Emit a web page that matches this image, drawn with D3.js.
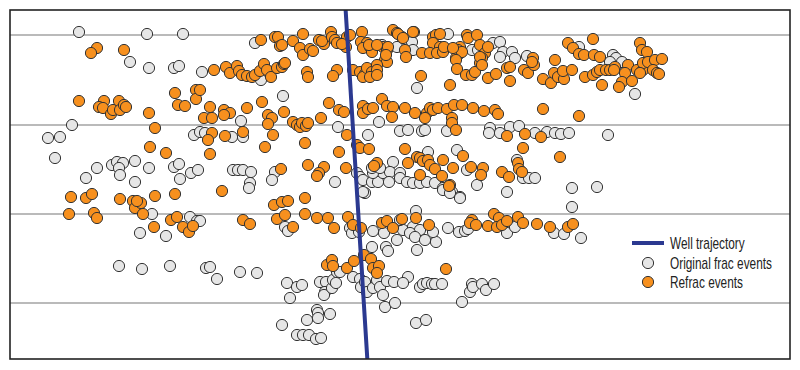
<!DOCTYPE html>
<html>
<head>
<meta charset="utf-8">
<script src="https://cdn.jsdelivr.net/npm/d3@7"></script>
<style>
  html, body { margin: 0; padding: 0; background: #fff; }
  svg { display: block; }
  .legend text { font-family: 'Liberation Sans', Arial, sans-serif; font-size: 16px; fill: #222; }
</style>
</head>
<body>
<svg id="chart" width="800" height="370"></svg>
<script>
// microseismic map (plan units)
const gridDepths = [35, 125, 214, 303];
const wellTrajectory = [[345, 0], [368, 370]];
const legendItems = ['Well trajectory', 'Original frac events', 'Refrac events'];

const originalEvents = [
  [79,32],[147,34],[183,34],[130,62],[149,68],[174,68],[179,66],[202,72],
  [72,125],[48,138],[60,137],[55,158],[194,135],
  [97,168],[86,178],[112,165],[117,162],[123,163],[119,168],[120,175],[135,161],[135,182],[149,168],[174,167],[179,164],[180,179],[191,173],[198,170],
  [152,214],[140,233],[166,236],[190,217],[197,221],[119,266],[142,269],[170,266],
  [255,43],[382,45],[388,48],[397,47],[261,80],[283,96],
  [241,121],[243,137],[232,137],[338,127],[368,135],[379,122],[200,132],[205,133],
  [233,170],[238,170],[243,170],[251,172],[275,172],[272,180],[250,183],
  [335,182],[393,162],[428,152],[457,150],[467,170],[357,173],[360,177],[363,180],[372,182],[378,182],[383,173],[390,172],[400,173],
  [389,182],[400,178],[407,182],[413,183],[420,183],[427,182],[435,183],[443,188],[452,192],[460,197],[365,193],[373,173],[372,168],[380,168],
  [249,188],[200,221],[285,227],[288,231],[350,228],[352,233],[359,232],[373,231],[384,233],[372,247],[386,247],[388,251],[397,240],[403,230],[363,192],
  [206,268],[210,267],[217,279],[240,272],[257,273],[287,283],[297,287],[302,285],[290,298],
  [320,282],[326,282],[325,292],[324,295],[332,288],[333,280],[336,283],[337,272],[340,272],[353,277],[360,279],[361,287],[365,282],[367,292],
  [373,288],[377,280],[380,287],[383,295],[385,307],[387,281],[395,303],[394,282],
  [317,310],[318,313],[318,318],[307,320],[330,314],[282,325],[297,335],[303,335],[309,335],[316,339],[321,338],
  [443,190],[450,193],[460,198],[477,185],[507,192],[572,188],[597,187],[572,207],
  [416,211],[400,220],[413,227],[420,230],[410,233],[415,237],[425,240],[436,242],[417,250],[433,232],[448,228],[459,232],[465,231],[468,229],
  [507,233],[515,227],[554,233],[564,234],[581,238],
  [408,277],[403,283],[420,287],[423,284],[427,283],[432,284],[435,284],[442,284],[462,302],[472,284],[470,292],[473,287],[482,284],[486,290],[494,284],
  [416,323],[426,320],
  [448,34],[412,42],[413,50],[472,50],[478,50],[485,52],[493,43],[500,42],[503,52],[512,52],[500,57],[515,58],[527,56],[579,47],[417,88],
  [400,131],[408,130],[422,131],[425,130],[447,131],[490,128],[489,133],[500,133],[510,127],[519,126],[535,133],[547,132],[555,133],[561,134],[569,133],
  [517,160],[523,178],[529,178],[535,178],
  [613,55],[616,58],[622,62],[610,62],[635,94],[608,135]
];

const refracEvents = [
  [97,48],[91,53],[124,50],
  [79,101],[104,101],[99,107],[103,108],[111,114],[113,110],[119,101],[120,110],[124,105],[126,107],[149,113],[175,93],[196,90],[196,99],[178,105],[185,106],
  [155,128],[150,147],[166,153],
  [71,197],[86,198],[92,194],[120,199],[133,201],[135,208],[141,203],[137,201],[155,196],[175,194],[69,214],[94,213],[97,218],[143,214],[154,227],[171,220],[177,217],[183,227],[189,232],[193,226],
  [261,40],[275,37],[278,37],[280,46],[293,41],[303,34],[300,48],[303,55],[310,49],[313,51],[319,40],[324,44],[322,41],[331,32],[332,37],[335,40],[337,43],
  [344,43],[346,47],[347,37],[350,35],[362,32],[361,42],[367,43],[363,48],[370,47],[372,52],[383,47],[387,50],[385,60],[387,62],[393,30],[397,33],[388,47],
  [282,45],[342,44],[369,45],[377,45],[386,55],
  [214,70],[226,67],[230,73],[237,66],[239,71],[242,75],[247,76],[252,77],[255,75],[260,71],[264,64],[267,70],[271,77],[277,68],[282,67],[284,64],
  [307,72],[308,77],[337,70],[333,76],[353,70],[360,72],[365,74],[363,77],[367,68],[372,72],[377,65],[377,70],[285,63],[370,77],[377,75],
  [200,90],[210,107],[224,110],[230,113],[224,115],[247,108],[262,102],[268,115],[272,118],[268,124],[284,112],[293,122],[297,125],[300,127],[302,123],
  [306,126],[308,123],[321,118],[329,103],[339,110],[344,112],[363,106],[363,113],[368,109],[373,108],[382,99],[387,106],[393,107],[392,117],[204,118],[212,118],
  [212,133],[208,140],[225,136],[243,132],[273,135],[265,147],[305,143],[347,135],[357,145],[360,148],[369,149],[339,152],[210,154],
  [308,165],[324,167],[319,173],[317,176],[346,168],[281,169],[377,163],[374,166],
  [222,191],[274,205],[282,202],[288,201],[305,198],[243,220],[250,224],[277,219],[285,215],[293,227],[305,214],[317,218],[328,218],[334,228],
  [348,217],[353,225],[361,228],[382,223],[387,221],[393,228],
  [327,265],[332,260],[333,266],[347,268],[354,261],[364,255],[371,259],[373,268],[379,266],[377,273],
  [414,32],[402,37],[433,37],[436,35],[440,34],[433,43],[440,47],[467,35],[468,38],[477,35],[480,45],[460,47],[458,50],[405,50],[406,57],
  [422,53],[430,53],[437,53],[443,52],[444,47],[459,54],[456,58],[462,52],[485,53],[482,58],[480,63],[398,34],[403,38],[413,32],[453,48],[488,47],[456,60],[480,57],
  [457,69],[466,75],[472,75],[475,72],[482,65],[488,78],[496,74],[510,81],[507,68],[510,67],[524,70],[528,73],[533,58],[534,65],[532,62],
  [543,79],[551,83],[554,73],[555,60],[558,77],[564,79],[563,71],[572,70],[568,43],[573,48],[579,54],[584,55],[593,39],[594,55],[585,77],[593,75],[597,72],
  [421,76],[450,85],
  [405,108],[415,113],[427,113],[430,108],[433,110],[438,108],[447,109],[454,105],[462,105],[473,108],[484,111],[495,110],[498,114],[452,118],[452,123],
  [425,118],[456,130],[543,109],[579,116],[507,136],[525,134],[541,137],
  [405,149],[417,157],[420,158],[423,161],[428,160],[430,165],[435,169],[443,160],[453,168],[463,156],[408,163],[420,175],[442,176],[450,185],
  [471,167],[483,168],[481,175],[502,172],[509,177],[518,163],[519,169],[522,172],[523,148],[560,157],
  [402,219],[416,218],[429,225],[449,186],[472,220],[470,223],[476,225],[488,226],[494,214],[499,218],[497,227],[502,225],[507,221],[518,217],
  [523,223],[537,224],[550,227],[568,227],[573,224],[446,269],
  [640,43],[642,50],[647,52],[600,57],[600,70],[602,85],[606,70],[610,70],[615,67],[614,70],[628,65],[625,73],[622,82],[619,87],[632,81],
  [637,70],[643,70],[643,63],[648,62],[655,60],[662,59],[653,70],[657,73],[659,74],[640,73]
];

const colors = { well: '#2b3990', original: '#e6e6e6', refrac: '#f7901e', stroke: '#333333', grid: '#777777' };

const svg = d3.select('#chart');
const plot = { left: 10, top: 10, right: 790, bottom: 359 };

const x = d3.scaleLinear().domain([10, 790]).range([plot.left, plot.right]);
const y = d3.scaleLinear().domain([10, 359]).range([plot.top, plot.bottom]);

svg.append('clipPath').attr('id', 'plot-clip')
  .append('rect')
  .attr('x', plot.left).attr('y', plot.top)
  .attr('width', plot.right - plot.left).attr('height', plot.bottom - plot.top);

const g = svg.append('g').attr('clip-path', 'url(#plot-clip)');

// horizontal grid
g.append('g').selectAll('line').data(gridDepths).join('line')
  .attr('x1', plot.left).attr('x2', plot.right)
  .attr('y1', d => y(d)).attr('y2', d => y(d))
  .attr('stroke', colors.grid).attr('stroke-width', 1.2);

const drawEvents = (data, fill) => g.append('g').selectAll('circle').data(data).join('circle')
  .attr('cx', d => x(d[0])).attr('cy', d => y(d[1])).attr('r', 5.6)
  .attr('fill', fill).attr('stroke', colors.stroke).attr('stroke-width', 1);

drawEvents(originalEvents, colors.original);
drawEvents(refracEvents, colors.refrac);

g.append('path')
  .datum(wellTrajectory)
  .attr('d', d3.line().x(d => x(d[0])).y(d => y(d[1])))
  .attr('stroke', colors.well).attr('stroke-width', 4).attr('fill', 'none');

// frame
svg.append('rect')
  .attr('x', plot.left).attr('y', plot.top)
  .attr('width', plot.right - plot.left).attr('height', plot.bottom - plot.top)
  .attr('fill', 'none').attr('stroke', '#222').attr('stroke-width', 1.6);

// legend
const legend = svg.append('g').attr('class', 'legend').attr('transform', 'translate(632,243)');
legend.append('line').attr('x1', 0).attr('x2', 32).attr('y1', 0).attr('y2', 0)
  .attr('stroke', colors.well).attr('stroke-width', 4);
legend.append('circle').attr('cx', 16).attr('cy', 20).attr('r', 5.6)
  .attr('fill', colors.original).attr('stroke', colors.stroke);
legend.append('circle').attr('cx', 16).attr('cy', 39).attr('r', 5.6)
  .attr('fill', colors.refrac).attr('stroke', colors.stroke);
// the original uses a condensed face; squeeze a regular one horizontally
legend.selectAll('text').data(legendItems).join('text')
  .attr('transform', (d, i) => `translate(38,${[0, 20, 39][i]}) scale(0.74,1)`)
  .attr('dy', '0.35em')
  .text(d => d);
</script>
</body>
</html>
